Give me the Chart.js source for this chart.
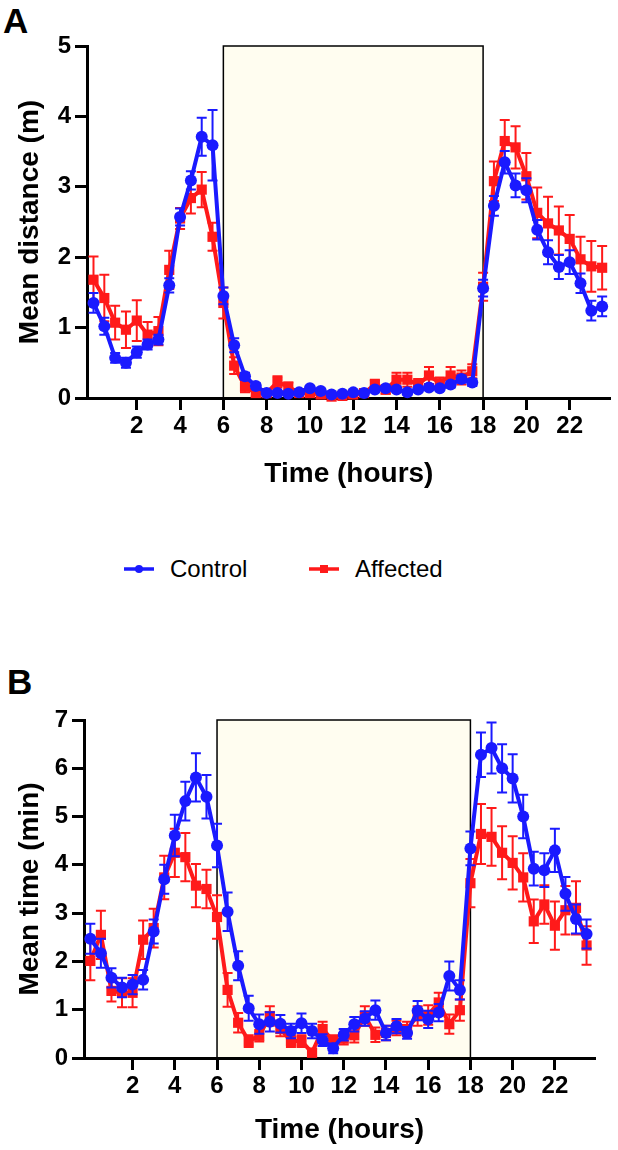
<!DOCTYPE html>
<html>
<head>
<meta charset="utf-8">
<script src="https://cdn.jsdelivr.net/npm/chart.js@4.4.1/dist/chart.umd.min.js"></script>
<style>
body { margin: 0; background: #fff; font-family: "Liberation Sans", Arial, sans-serif; }
#page { position: relative; width: 618px; height: 1150px; overflow: hidden; }
.panel { position: absolute; left: 0; }
.tag { position: absolute; font-weight: bold; font-size: 35px; line-height: 1; color: #000; }
.item { position: absolute; top: 553px; height: 32px; display: flex; align-items: center; font-size: 24px; color: #000; }
.item svg { margin-right: 16px; }
</style>
</head>
<body>
<div id="page">
  <div class="tag" style="left:3px;top:3px">A</div>
  <canvas id="chartA" class="panel" style="top:0" width="618" height="500"></canvas>

  <div class="item" style="left:124px">
    <svg width="30" height="12"><line x1="0" y1="6" x2="30" y2="6" stroke="#1a1aff" stroke-width="3.5"/><circle cx="15" cy="6" r="4" fill="#1a1aff"/></svg>Control
  </div>
  <div class="item" style="left:309px">
    <svg width="30" height="12"><line x1="0" y1="6" x2="30" y2="6" stroke="#ff1a1a" stroke-width="3.5"/><rect x="11" y="2" width="8" height="8" fill="#ff1a1a"/></svg>Affected
  </div>

  <div class="tag" style="left:7px;top:664px">B</div>
  <canvas id="chartB" class="panel" style="top:600px" width="618" height="550"></canvas>
</div>

<script>
// hours of the day, half-hour bins
var hours = [0, 0.5, 1, 1.5, 2, 2.5, 3, 3.5, 4, 4.5, 5, 5.5,
             6, 6.5, 7, 7.5, 8, 8.5, 9, 9.5, 10, 10.5, 11, 11.5,
             12, 12.5, 13, 13.5, 14, 14.5, 15, 15.5, 16, 16.5, 17, 17.5,
             18, 18.5, 19, 19.5, 20, 20.5, 21, 21.5, 22, 22.5, 23, 23.5];
var xTicks = [2, 4, 6, 8, 10, 12, 14, 16, 18, 20, 22];
var nightFrom = 6, nightTo = 18;

// A: mean distance (m)
var distControl = [1.35, 1.02, 0.57, 0.50, 0.65, 0.76, 0.83, 1.60, 2.57, 3.09, 3.71, 3.59,
                   1.45, 0.75, 0.31, 0.17, 0.07, 0.07, 0.06, 0.08, 0.14, 0.10, 0.05, 0.06,
                   0.08, 0.07, 0.12, 0.14, 0.12, 0.08, 0.12, 0.15, 0.14, 0.19, 0.27, 0.22,
                   1.56, 2.73, 3.35, 3.02, 2.95, 2.39, 2.07, 1.86, 1.93, 1.63, 1.24, 1.30];
var distControlSem = [0.14, 0.12, 0.07, 0.07, 0.08, 0.07, 0.07, 0.10, 0.12, 0.13, 0.27, 0.50,
                      0.12, 0.10, 0.05, 0.04, 0.03, 0.03, 0.03, 0.03, 0.03, 0.03, 0.02, 0.02,
                      0.02, 0.02, 0.03, 0.03, 0.03, 0.03, 0.03, 0.03, 0.03, 0.04, 0.05, 0.05,
                      0.12, 0.14, 0.16, 0.17, 0.17, 0.14, 0.17, 0.17, 0.17, 0.14, 0.14, 0.14];
var distAffected = [1.68, 1.42, 1.07, 0.97, 1.10, 0.90, 0.95, 1.82, 2.55, 2.84, 2.96, 2.29,
                    1.35, 0.46, 0.16, 0.07, 0.07, 0.23, 0.16, 0.07, 0.07, 0.05, 0.02, 0.03,
                    0.05, 0.07, 0.19, 0.12, 0.26, 0.26, 0.19, 0.32, 0.21, 0.32, 0.29, 0.38,
                    1.58, 3.08, 3.65, 3.56, 3.15, 2.63, 2.48, 2.38, 2.26, 1.97, 1.87, 1.85];
var distAffectedSem = [0.33, 0.33, 0.24, 0.26, 0.29, 0.18, 0.20, 0.27, 0.15, 0.22, 0.25, 0.20,
                       0.22, 0.12, 0.08, 0.05, 0.05, 0.08, 0.06, 0.05, 0.05, 0.05, 0.04, 0.04,
                       0.04, 0.05, 0.07, 0.06, 0.10, 0.10, 0.08, 0.12, 0.08, 0.12, 0.10, 0.10,
                       0.20, 0.28, 0.30, 0.30, 0.33, 0.36, 0.38, 0.34, 0.34, 0.32, 0.36, 0.31];

// B: mean time (min)
var timeControl = [2.47, 2.17, 1.66, 1.46, 1.52, 1.62, 2.62, 3.70, 4.61, 5.32, 5.81, 5.41,
                   4.40, 3.03, 1.91, 1.03, 0.70, 0.75, 0.71, 0.56, 0.72, 0.56, 0.37, 0.20,
                   0.48, 0.70, 0.82, 0.99, 0.52, 0.66, 0.52, 0.98, 0.80, 0.94, 1.70, 1.41,
                   4.34, 6.28, 6.42, 6.00, 5.79, 5.00, 3.92, 3.89, 4.30, 3.40, 2.88, 2.57];
var timeControlSem = [0.31, 0.30, 0.20, 0.20, 0.20, 0.20, 0.25, 0.30, 0.43, 0.40, 0.50, 0.45,
                      0.45, 0.40, 0.30, 0.26, 0.20, 0.20, 0.18, 0.15, 0.20, 0.15, 0.12, 0.10,
                      0.12, 0.15, 0.15, 0.20, 0.15, 0.15, 0.12, 0.20, 0.18, 0.18, 0.30, 0.20,
                      0.35, 0.46, 0.53, 0.50, 0.50, 0.45, 0.35, 0.35, 0.45, 0.35, 0.30, 0.30];
var timeAffected = [2.01, 2.55, 1.39, 1.35, 1.35, 2.45, 2.69, 3.74, 4.25, 4.16, 3.57, 3.50,
                    2.92, 1.41, 0.73, 0.35, 0.46, 0.87, 0.60, 0.35, 0.35, 0.11, 0.60, 0.35,
                    0.40, 0.47, 0.87, 0.48, 0.52, 0.62, 0.60, 0.87, 0.89, 1.15, 0.70, 0.99,
                    3.62, 4.64, 4.58, 4.25, 4.04, 3.74, 2.83, 3.18, 2.74, 3.06, 3.11, 2.33];
var timeAffectedSem = [0.40, 0.50, 0.22, 0.30, 0.30, 0.40, 0.40, 0.45, 0.50, 0.50, 0.45, 0.40,
                       0.45, 0.35, 0.20, 0.12, 0.12, 0.20, 0.15, 0.12, 0.12, 0.08, 0.15, 0.12,
                       0.12, 0.15, 0.20, 0.15, 0.15, 0.15, 0.15, 0.20, 0.20, 0.20, 0.20, 0.22,
                       0.50, 0.62, 0.60, 0.55, 0.55, 0.50, 0.45, 0.40, 0.50, 0.50, 0.55, 0.40];

var blue = '#1a1aff', red = '#ff1a1a';

// cream box for the dark period, drawn under the axes
var nightBox = {
  id: 'nightBox',
  beforeDraw: function (chart) {
    var x = chart.scales.x, y = chart.scales.y, ctx = chart.ctx;
    var l = x.getPixelForValue(nightFrom), r = x.getPixelForValue(nightTo);
    var t = y.getPixelForValue(y.max), b = y.getPixelForValue(0);
    ctx.save();
    ctx.fillStyle = '#fffdf0';
    ctx.fillRect(l, t, r - l, b - t);
    ctx.strokeStyle = '#000';
    ctx.lineWidth = 1.5;
    ctx.strokeRect(l, t, r - l, b - t);
    ctx.restore();
  }
};

// SEM whiskers, drawn just under each dataset
var errorBars = {
  id: 'errorBars',
  beforeDatasetDraw: function (chart, args) {
    var ds = chart.data.datasets[args.index];
    if (!ds.sem) return;
    var y = chart.scales.y, ctx = chart.ctx;
    ctx.save();
    ctx.strokeStyle = ds.borderColor;
    ctx.lineWidth = 2;
    args.meta.data.forEach(function (pt, i) {
      var v = ds.data[i].y, e = ds.sem[i];
      var top = y.getPixelForValue(v + e);
      var bot = y.getPixelForValue(Math.max(v - e, 0));
      ctx.beginPath();
      ctx.moveTo(pt.x, top); ctx.lineTo(pt.x, bot);
      ctx.moveTo(pt.x - 5, top); ctx.lineTo(pt.x + 5, top);
      ctx.moveTo(pt.x - 5, bot); ctx.lineTo(pt.x + 5, bot);
      ctx.stroke();
    });
    ctx.restore();
  }
};

function points(vals) {
  return vals.map(function (v, i) { return { x: hours[i], y: v }; });
}

function makeChart(id, ctrl, ctrlSem, aff, affSem, o) {
  return new Chart(document.getElementById(id), {
    type: 'line',
    data: {
      datasets: [{
        label: 'Control', data: points(ctrl), sem: ctrlSem,
        borderColor: blue, backgroundColor: blue, borderWidth: 4,
        pointStyle: 'circle', pointRadius: 6, pointBorderWidth: 0, clip: false
      }, {
        label: 'Affected', data: points(aff), sem: affSem,
        borderColor: red, backgroundColor: red, borderWidth: 4,
        pointStyle: 'rect', pointRadius: 7.2, pointBorderWidth: 0, clip: false
      }]
    },
    options: {
      responsive: false,
      animation: false,
      devicePixelRatio: 1,
      layout: { padding: { left: 0, top: o.padTop, right: o.padRight, bottom: 0 } },
      plugins: { legend: { display: false }, tooltip: { enabled: false } },
      scales: {
        x: {
          type: 'linear', min: -0.3, max: 23.9,
          afterBuildTicks: function (s) { s.ticks = xTicks.map(function (v) { return { value: v }; }); },
          afterFit: function (s) { s.height = o.xHeight; },
          grid: { drawOnChartArea: false, tickLength: 12, tickWidth: 3, tickColor: '#000' },
          border: { color: '#000', width: 3 },
          ticks: { color: '#000', padding: 2, maxRotation: 0, autoSkip: false,
                   font: { family: 'Liberation Sans', size: 24, weight: 'bold' } },
          title: { display: true, text: 'Time (hours)', color: '#000',
                   padding: { top: 0, bottom: o.xTitlePad },
                   font: { family: 'Liberation Sans', size: 28, weight: 'bold' } }
        },
        y: {
          min: 0, max: o.yMax,
          afterFit: function (s) { s.width = o.yWidth; },
          grid: { drawOnChartArea: false, tickLength: 12, tickWidth: 3, tickColor: '#000' },
          border: { color: '#000', width: 3 },
          ticks: { stepSize: 1, color: '#000', padding: 4,
                   font: { family: 'Liberation Sans', size: 24, weight: 'bold' } },
          title: { display: true, text: o.yTitle, color: '#000',
                   padding: { top: 13, bottom: 0 },
                   font: { family: 'Liberation Sans', size: 28, weight: 'bold' } }
        }
      }
    },
    plugins: [nightBox, errorBars]
  });
}

makeChart('chartA', distControl, distControlSem, distAffected, distAffectedSem, {
  yMax: 5, yTitle: 'Mean distance (m)', yWidth: 87, xHeight: 102,
  padTop: 46, padRight: 3, xTitlePad: 9
});
makeChart('chartB', timeControl, timeControlSem, timeAffected, timeAffectedSem, {
  yMax: 7, yTitle: 'Mean time (min)', yWidth: 84, xHeight: 92,
  padTop: 120, padRight: 23, xTitlePad: 3
});
</script>
</body>
</html>
